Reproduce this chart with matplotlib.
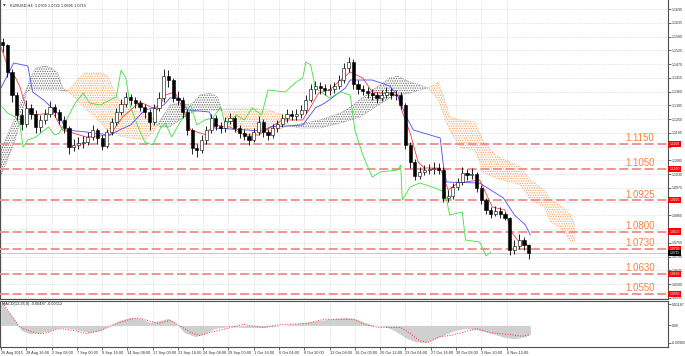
import numpy as np
import matplotlib.pyplot as plt
from matplotlib import transforms

plt.rcParams['hatch.linewidth'] = 0.6

#------------------------------------------------------------------------
# datos: velas (cada vela = 3 barras H4)
open_first = 1.1560
close = [1.1546, 1.1438, 1.1346, 1.1266, 1.1230, 1.1294, 1.1270, 1.1218, 1.1246, 1.1270,
         1.1298, 1.1278, 1.1246, 1.1214, 1.1138, 1.1146, 1.1154, 1.1158, 1.1178, 1.1206,
         1.1174, 1.1142, 1.1198, 1.1238, 1.1278, 1.1310, 1.1338, 1.1326, 1.1314, 1.1298,
         1.1278, 1.1238, 1.1294, 1.1334, 1.1422, 1.1406, 1.1334, 1.1326, 1.1278, 1.1206,
         1.1134, 1.1126, 1.1166, 1.1206, 1.1254, 1.1222, 1.1214, 1.1242, 1.1254, 1.1214,
         1.1194, 1.1182, 1.1166, 1.1198, 1.1238, 1.1198, 1.1186, 1.1214, 1.1230, 1.1254,
         1.1270, 1.1262, 1.1270, 1.1286, 1.1326, 1.1370, 1.1382, 1.1374, 1.1366, 1.1370,
         1.1382, 1.1406, 1.1454, 1.1478, 1.1390, 1.1370, 1.1362, 1.1354, 1.1346, 1.1334,
         1.1346, 1.1358, 1.1346, 1.1346, 1.1306, 1.1146, 1.1078, 1.1022, 1.1038, 1.1046,
         1.1050, 1.1054, 1.1046, 1.0934, 1.0942, 1.0978, 1.0998, 1.1034, 1.1026, 1.1030,
         1.0974, 1.0926, 1.0886, 1.0870, 1.0882, 1.0870, 1.0854, 1.0726, 1.0742, 1.0766,
         1.0746, 1.0715]
high = [1.1575, 1.1552, 1.1450, 1.1360, 1.1290, 1.1325, 1.1310, 1.1285, 1.1268, 1.1290,
        1.1322, 1.1312, 1.1290, 1.1262, 1.1222, 1.1172, 1.1178, 1.1182, 1.1200, 1.1228,
        1.1215, 1.1186, 1.1212, 1.1255, 1.1296, 1.1330, 1.1358, 1.1352, 1.1340, 1.1328,
        1.1310, 1.1290, 1.1310, 1.1360, 1.1450, 1.1445, 1.1415, 1.1362, 1.1338, 1.1290,
        1.1215, 1.1150, 1.1185, 1.1222, 1.1272, 1.1268, 1.1238, 1.1260, 1.1275, 1.1262,
        1.1228, 1.1210, 1.1195, 1.1215, 1.1262, 1.1250, 1.1212, 1.1232, 1.1248, 1.1272,
        1.1290, 1.1285, 1.1290, 1.1305, 1.1345, 1.1392, 1.1402, 1.1398, 1.1390, 1.1392,
        1.1400, 1.1428, 1.1475, 1.1500, 1.1492, 1.1405, 1.1388, 1.1380, 1.1372, 1.1360,
        1.1368, 1.1378, 1.1375, 1.1368, 1.1360, 1.1315, 1.1160, 1.1090, 1.1058, 1.1068,
        1.1072, 1.1078, 1.1075, 1.1060, 1.0965, 1.0995, 1.1015, 1.1058, 1.1052, 1.1055,
        1.1040, 1.0985, 1.0935, 1.0900, 1.0902, 1.0898, 1.0880, 1.0860, 1.0765, 1.0790,
        1.0778, 1.0752]
low = [1.1520, 1.1420, 1.1320, 1.1245, 1.1205, 1.1220, 1.1250, 1.1195, 1.1200, 1.1232,
       1.1258, 1.1260, 1.1230, 1.1196, 1.1110, 1.1122, 1.1130, 1.1136, 1.1146, 1.1165,
       1.1150, 1.1128, 1.1136, 1.1185, 1.1226, 1.1265, 1.1298, 1.1305, 1.1296, 1.1282,
       1.1255, 1.1206, 1.1228, 1.1282, 1.1320, 1.1380, 1.1318, 1.1305, 1.1255, 1.1185,
       1.1110, 1.1100, 1.1115, 1.1150, 1.1195, 1.1205, 1.1195, 1.1200, 1.1232, 1.1198,
       1.1176, 1.1165, 1.1148, 1.1158, 1.1188, 1.1180, 1.1168, 1.1175, 1.1200, 1.1218,
       1.1240, 1.1245, 1.1248, 1.1255, 1.1275, 1.1318, 1.1352, 1.1352, 1.1345, 1.1348,
       1.1355, 1.1370, 1.1395, 1.1440, 1.1372, 1.1350, 1.1345, 1.1335, 1.1328, 1.1315,
       1.1322, 1.1335, 1.1330, 1.1328, 1.1290, 1.1130, 1.1055, 1.1005, 1.1010, 1.1025,
       1.1030, 1.1032, 1.1030, 1.0918, 1.0920, 1.0930, 1.0965, 1.0988, 1.1008, 1.1010,
       1.0960, 1.0910, 1.0870, 1.0855, 1.0862, 1.0855, 1.0845, 1.0705, 1.0712, 1.0730,
       1.0728, 1.0690]

# Ichimoku (x en barras H4)
tenkan_x = [0, 6, 9, 12, 16, 20, 33, 39, 54, 69, 77, 88, 99, 104, 110, 115, 120, 130, 134, 145,
            154, 163, 170, 178, 191, 196, 201, 208, 215, 221, 229, 235, 251, 254, 259, 264, 268,
            278, 283, 289, 303, 311, 319, 323, 328, 335]
tenkan_y = [1.1538, 1.1426, 1.1418, 1.1378, 1.1294, 1.1266, 1.1274, 1.1206, 1.1178, 1.1186,
            1.1258, 1.1318, 1.1286, 1.1346, 1.1358, 1.1294, 1.1206, 1.1186, 1.1226, 1.1218,
            1.1186, 1.1186, 1.1214, 1.1246, 1.1246, 1.1298, 1.1354, 1.1366, 1.1406, 1.1438,
            1.1414, 1.1358, 1.1346, 1.1278, 1.1194, 1.1078, 1.1054, 1.1054, 1.0966, 1.0994,
            1.1006, 1.0898, 1.0886, 1.0798, 1.0758, 1.0742]
kijun_x = [0, 8, 17, 20, 27, 37, 41, 54, 69, 75, 82, 91, 103, 107, 113, 118, 132, 135, 166, 170,
           191, 199, 205, 218, 221, 235, 246, 251, 256, 261, 278, 280, 282, 303, 310, 318, 325,
           332, 335]
kijun_y = [1.1374, 1.1474, 1.1462, 1.1358, 1.1326, 1.1266, 1.1206, 1.1198, 1.1186, 1.1206,
           1.1226, 1.1286, 1.1306, 1.1334, 1.1334, 1.1286, 1.1278, 1.1214, 1.1202, 1.1218,
           1.1226, 1.1294, 1.1314, 1.1374, 1.1406, 1.1406, 1.1382, 1.1346, 1.1266, 1.1206,
           1.1174, 1.1066, 1.0998, 1.0994, 1.0966, 1.0934, 1.0866, 1.0826, 1.0786]
chikou_x = [1, 4, 9, 12, 14, 17, 22, 30, 34, 37, 42, 47, 52, 56, 63, 69, 73, 76, 79, 82,
            87, 91, 96, 101, 104, 108, 113, 120, 124, 129, 134, 139, 142, 149, 154, 159, 165,
            169, 180, 186, 191, 193, 196, 199, 208, 215, 221, 224, 229, 235, 240, 251, 253,
            254, 259, 265, 273, 281, 284, 292, 294, 303, 307, 310]
chikou_y = [1.1298, 1.1274, 1.1258, 1.1226, 1.1138, 1.1166, 1.1178, 1.1218, 1.1186, 1.1194,
            1.1254, 1.1314, 1.1354, 1.1314, 1.1306, 1.1326, 1.1338, 1.1446, 1.1414, 1.1298,
            1.1214, 1.1158, 1.1146, 1.1214, 1.1234, 1.1178, 1.1234, 1.1306, 1.1226, 1.1246,
            1.1254, 1.1298, 1.1226, 1.1266, 1.1246, 1.1294, 1.1266, 1.1366, 1.1358, 1.1394,
            1.1414, 1.1478, 1.1466, 1.1374, 1.1334, 1.1358, 1.1346, 1.1206, 1.1106, 1.1018,
            1.1038, 1.1046, 1.1066, 1.0926, 1.0978, 1.0994, 1.0978, 1.0958, 1.0866, 1.0878,
            1.0766, 1.0758, 1.0702, 1.0718]
kumo_x = [0, 4, 9, 13, 16, 18, 22, 28, 32, 36, 39, 42, 47, 53, 63, 67, 71, 75, 82, 91,
          96, 99, 101, 107, 113, 120, 126, 132, 137, 140, 145, 158, 170, 178, 183, 189, 202,
          215, 221, 227, 237, 246, 251, 259, 265, 270, 277, 281, 284, 291, 300, 305, 313, 322,
          329, 335, 344, 348, 354, 361, 363]
span_a = [1.1126, 1.1186, 1.1254, 1.1326, 1.1366, 1.1406, 1.1454, 1.1462, 1.1454, 1.1434,
          1.1374, 1.1362, 1.1334, 1.1294, 1.1238, 1.1206, 1.1194, 1.1182, 1.1174, 1.1166,
          1.1194, 1.1226, 1.1246, 1.1306, 1.1314, 1.1306, 1.1346, 1.1354, 1.1338, 1.1286,
          1.1226, 1.1206, 1.1194, 1.1214, 1.1222, 1.1230, 1.1246, 1.1274, 1.1298, 1.1326,
          1.1374, 1.1414, 1.1422, 1.1398, 1.1386, 1.1374, 1.1326, 1.1254, 1.1206, 1.1134,
          1.1126, 1.1038, 1.1014, 1.0998, 1.0986, 1.0926, 1.0898, 1.0838, 1.0814, 1.0758,
          1.0758]
span_b = [1.1026, 1.1086, 1.1166, 1.1266, 1.1354, 1.1366, 1.1366, 1.1366, 1.1366, 1.1366,
          1.1362, 1.1362, 1.1398, 1.1434, 1.1434, 1.1426, 1.1374, 1.1326, 1.1286, 1.1274,
          1.1258, 1.1226, 1.1218, 1.1218, 1.1246, 1.1274, 1.1286, 1.1286, 1.1286, 1.1286,
          1.1294, 1.1294, 1.1286, 1.1266, 1.1222, 1.1214, 1.1214, 1.1234, 1.1246, 1.1258,
          1.1298, 1.1334, 1.1346, 1.1354, 1.1366, 1.1374, 1.1398, 1.1326, 1.1258, 1.1246,
          1.1238, 1.1166, 1.1106, 1.1078, 1.1058, 1.1006, 1.0966, 1.0926, 1.0906, 1.0866,
          1.0826]

# MACD
macd_x = [0, 4, 9, 13, 18, 25, 31, 37, 44, 50, 56, 63, 69, 75, 82, 88, 94, 101, 106, 110,
          116, 123, 129, 135, 145, 154, 164, 173, 183, 192, 202, 211, 218, 224, 230, 237, 243,
          249, 256, 262, 268, 275, 281, 287, 294, 300, 306, 313, 319, 325, 332, 335]
macd_val = [0.01243, 0.00848, 0.00283, -0.00283, -0.00452, -0.00396, -0.00283, -0.00113,
            -0.00170, -0.00283, -0.00396, -0.00283, 0.0, 0.00283, 0.00452, 0.00396, 0.00170,
            0.00283, 0.00396, 0.00170, -0.00396, -0.00622, -0.00452, -0.00170, -0.00057,
            -0.00113, -0.00113, -0.00057, 0.00057, 0.00170, 0.00283, 0.00396, 0.00452,
            0.00396, 0.00170, 0.0, -0.00057, -0.00283, -0.00678, -0.00904, -0.00961,
            -0.00735, -0.00509, -0.00283, -0.00170, -0.00226, -0.00339, -0.00509, -0.00678,
            -0.00735, -0.00620, -0.00487]
signal_x = [1, 12, 23, 27, 37, 46, 54, 63, 73, 84, 88, 99, 107, 113, 120, 126, 132, 143, 153,
            166, 178, 194, 204, 216, 223, 232, 240, 253, 259, 265, 270, 278, 284, 292, 301,
            309, 322, 330, 335]
signal_val = [0.01243, -0.00113, -0.00452, -0.00452, -0.00170, -0.00283, -0.00452, -0.00283,
              0.00113, 0.00396, 0.00396, 0.00113, 0.00283, 0.0, -0.00396, -0.00565, -0.00396,
              -0.00170, 0.00057, -0.00113, 0.00057, 0.00113, 0.00339, 0.00339, 0.00339, 0.0,
              -0.00113, -0.00113, -0.00452, -0.00850, -0.00950, -0.00622, -0.00565, -0.00396,
              -0.00170, -0.00396, -0.00509, -0.00600, -0.00512]

# niveles y ejes
levels = [1.1150, 1.1050, 1.0925, 1.0800, 1.0730, 1.0630, 1.0550]
level_labels = ["1.1150", "1.1050", "1.0925", "1.0800", "1.0730", "1.0630", "1.0550"]
last_price = 1.0715
price_ticks = [1.1690, 1.1635, 1.1580, 1.1525, 1.1470, 1.1415, 1.1360, 1.1305, 1.1250, 1.1195,
               1.1140, 1.1085, 1.1030, 1.0975, 1.0920, 1.0865, 1.0810, 1.0755, 1.0700, 1.0645,
               1.0590, 1.0535]
hidden_ticks = [1.1140, 1.0920, 1.0810]
date_ticks = [0, 16, 32, 48, 64, 80, 96, 112, 128, 144, 160, 176, 192, 208, 224, 240, 256,
              272, 288, 304, 320]
date_labels = ["26 Aug 2015", "28 Aug 16:00", "2 Sep 08:00", "7 Sep 00:00", "9 Sep 16:00",
               "14 Sep 08:00", "17 Sep 00:00", "21 Sep 16:00", "24 Sep 08:00", "29 Sep 00:00",
               "1 Oct 16:00", "6 Oct 04:00", "8 Oct 20:00", "13 Oct 08:00", "16 Oct 00:00",
               "20 Oct 12:00", "23 Oct 04:00", "27 Oct 16:00", "30 Oct 08:00", "3 Nov 20:00",
               "6 Nov 12:00"]
macd_ticks = [0.01187, 0.0, -0.0096]
macd_tick_labels = ["0.01187", "0.00", "-0.00960"]

SMALL = 'Liberation Sans'

#------------------------------------------------------------------------
fig = plt.figure(figsize=(6.85, 3.56), dpi=100)
ax = fig.add_axes([0.0, 0.1601, 0.9752, 0.8399])
ax2 = fig.add_axes([0.0, 0.0253, 0.9752, 0.1292], sharex=ax)
XMIN, XMAX = -0.63, 422.2

# nube
ka = np.array(span_a)
kb = np.array(span_b)
ax.fill_between(kumo_x, ka, kb, where=ka >= kb, interpolate=True, facecolor='none',
                edgecolor='#6a6a6a', hatch='.......', linewidth=0.5, linestyle=':', zorder=2)
ax.fill_between(kumo_x, ka, kb, where=ka <= kb, interpolate=True, facecolor='none',
                edgecolor='#F4A460', hatch='.......', linewidth=0.5, linestyle=':', zorder=2)

# lineas
ax.plot(tenkan_x, tenkan_y, color='#ff3b3b', lw=0.6, zorder=4)
ax.plot(kijun_x, kijun_y, color='#4a4aff', lw=0.6, zorder=4)
ax.plot(chikou_x, chikou_y, color='#3ee03e', lw=0.6, zorder=4)

# velas
c = np.array(close)
o = np.r_[open_first, c[:-1]]
xk = np.arange(len(c)) * 3 + 1
ax.vlines(xk, low, high, color='black', lw=0.6, zorder=5)
up = c >= o
ax.bar(xk[up], np.maximum((c - o)[up], 0.0002), bottom=o[up], width=2.0,
       color='white', edgecolor='black', lw=0.4, zorder=6)
ax.bar(xk[~up], (o - c)[~up], bottom=c[~up], width=2.0,
       color='black', edgecolor='black', lw=0.4, zorder=6)

# niveles horizontales
trans = transforms.blended_transform_factory(ax.transAxes, ax.transData)
for lv, lab in zip(levels, level_labels):
    ax.axhline(lv, color='#f28a8a', lw=1.3, dashes=(5, 2), zorder=3)
    ax.text(0.958, lv + 0.0023, lab, transform=trans, color='#ff7f3f', fontsize=7,
            ha='center', va='center', family=SMALL, zorder=7)
    ax.text(1.002, lv, lab, transform=trans, fontsize=2.4, color='white', va='center',
            ha='left', clip_on=False, family=SMALL,
            bbox=dict(boxstyle='square,pad=0.35', fc='#ff0000', ec='none'))
ax.axhline(last_price, color='#b4b4b4', lw=0.5, zorder=3)
ax.text(1.002, last_price, "1.0715", transform=trans, fontsize=2.4, color='white',
        va='center', ha='left', clip_on=False, family=SMALL,
        bbox=dict(boxstyle='square,pad=0.35', fc='black', ec='none'))

ax.set_xlim(XMIN, XMAX)
ax.set_ylim(1.0530, 1.1726)
ax.yaxis.tick_right()
ax.set_yticks(price_ticks)
ax.set_yticklabels(["" if t in hidden_ticks else "%.4f" % t for t in price_ticks],
                   fontsize=2.6, color='#303030', family=SMALL)
ax.tick_params(axis='y', length=2, width=0.4, pad=1.0)
ax.tick_params(axis='x', labelbottom=False, length=0)
ax.set_xticks(date_ticks)
ax.grid(True, color='#c8c8c8', ls=':', lw=0.5)
for s in ax.spines.values():
    s.set_color('#505050')
    s.set_linewidth(0.8)
ax.spines['top'].set_visible(False)

fig.text(0.004, 0.989, u"\u25bc", fontsize=2.4, va='top', color='#303030')
fig.text(0.014, 0.990, "EURUSD,H4  1.0703 1.0722 1.0695 1.0715", fontsize=2.8,
         va='top', color='#202020', family=SMALL)

# MACD
ax2.fill_between(macd_x, 0, macd_val, color='#cfcfcf', lw=0, zorder=2)
ax2.plot(signal_x, signal_val, color='#ff3030', ls=':', lw=0.7, zorder=3)
ax2.set_ylim(-0.0120, 0.0136)
ax2.yaxis.tick_right()
ax2.set_yticks(macd_ticks)
ax2.set_yticklabels(macd_tick_labels, fontsize=2.6, color='#303030', family=SMALL)
ax2.tick_params(axis='y', length=2, width=0.4, pad=1.0)
ax2.set_xticks(date_ticks)
ax2.set_xticklabels(date_labels, fontsize=2.8, color='#303030', ha='left', family=SMALL)
ax2.tick_params(axis='x', length=2, width=0.4, pad=1.2)
ax2.grid(True, axis='x', color='#c8c8c8', ls=':', lw=0.5)
ax2.set_xlim(XMIN, XMAX)
for s in ax2.spines.values():
    s.set_color('#505050')
    s.set_linewidth(0.8)
ax2.text(0.003, 0.97, "MACD(12,26,9) -0.00487 -0.00512", transform=ax2.transAxes,
         fontsize=2.8, va='top', color='#202020', family=SMALL)

fig.savefig("out.png", dpi=100)
